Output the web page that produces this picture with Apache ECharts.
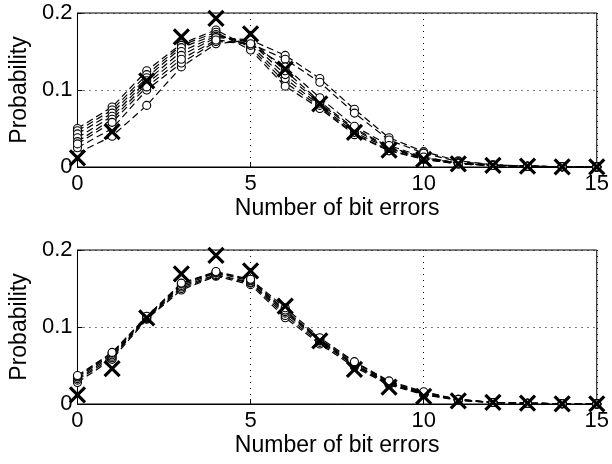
<!DOCTYPE html>
<html>
<head>
<meta charset="utf-8">
<script src="https://cdn.jsdelivr.net/npm/echarts@6/dist/echarts.min.js"></script>
<style>html,body{margin:0;padding:0;background:#fff;}#c{width:612px;height:464px;}</style>
</head>
<body>
<div id="c"></div>
<script>
// Number of bit errors
const bitErrors = [0,1,2,3,4,5,6,7,8,9,10,11,12,13,14,15];
const yTicks = [0, 0.1, 0.2];
// Reference distribution (X markers), same in both panels
const refProb = [0.012,0.046,0.112,0.169,0.193,0.173,0.127,0.082,0.045,0.022,0.010,0.004,0.002,0.001,0.0003,0.0001];
// Top panel: measured distributions (circles, dashed)
const topA = [0.018,0.040,0.080,0.130,0.160,0.165,0.145,0.115,0.075,0.038,0.020,0.008,0.003,0.001,0.0003,0.0001];
const topB = [0.025,0.050,0.100,0.135,0.163,0.160,0.140,0.110,0.070,0.035,0.018,0.007,0.003,0.001,0.0003,0.0001];
const topC = [0.050,0.078,0.125,0.160,0.178,0.155,0.110,0.078,0.043,0.022,0.010,0.004,0.002,0.001,0.0003,0.0001];
const topD = [0.047,0.074,0.120,0.158,0.175,0.152,0.105,0.076,0.042,0.021,0.010,0.004,0.002,0.001,0.0003,0.0001];
const topE = [0.043,0.070,0.116,0.155,0.172,0.158,0.115,0.080,0.045,0.024,0.011,0.005,0.002,0.001,0.0003,0.0001];
const topF = [0.038,0.066,0.112,0.150,0.170,0.162,0.120,0.083,0.048,0.025,0.012,0.005,0.002,0.001,0.0003,0.0001];
const topG = [0.033,0.062,0.108,0.145,0.168,0.165,0.125,0.085,0.050,0.026,0.012,0.005,0.002,0.001,0.0003,0.0001];
const topH = [0.030,0.058,0.104,0.140,0.165,0.160,0.130,0.090,0.053,0.028,0.013,0.005,0.002,0.001,0.0003,0.0001];
// Bottom panel: measured distributions
const botA = [0.028,0.058,0.110,0.148,0.166,0.155,0.112,0.078,0.048,0.025,0.012,0.005,0.002,0.001,0.0003,0.0001];
const botB = [0.031,0.060,0.111,0.150,0.167,0.157,0.115,0.080,0.050,0.026,0.013,0.005,0.002,0.001,0.0003,0.0001];
const botC = [0.033,0.062,0.112,0.152,0.168,0.158,0.118,0.082,0.051,0.027,0.013,0.005,0.002,0.001,0.0003,0.0001];
const botD = [0.035,0.064,0.113,0.154,0.170,0.160,0.120,0.083,0.052,0.028,0.014,0.006,0.002,0.001,0.0003,0.0001];
const botE = [0.036,0.066,0.113,0.156,0.171,0.161,0.122,0.084,0.054,0.029,0.015,0.006,0.002,0.001,0.0003,0.0001];
const botF = [0.037,0.067,0.114,0.157,0.172,0.162,0.125,0.086,0.055,0.030,0.016,0.006,0.002,0.001,0.0003,0.0001];

const topSeries = [topA, topB, topC, topD, topE, topF, topG, topH];
const botSeries = [botA, botB, botC, botD, botE, botF];

const FONT = 'Liberation Sans, Arial, sans-serif';
function pairs(arr){ return arr.map((v,i)=>[bitErrors[i], v]); }

function xAx(gi){
  return {
    type:'value', gridIndex:gi, min:0, max:15, interval:5,
    name:'Number of bit errors', nameLocation:'middle', nameGap:30,
    nameTextStyle:{color:'#000', fontSize:23, fontFamily:FONT},
    axisLine:{show:true, onZero:false, lineStyle:{color:'#000', width:1}},
    axisTick:{show:true, inside:true, length:5, lineStyle:{color:'#000'}},
    axisLabel:{color:'#000', fontSize:22, fontFamily:FONT, margin:6},
    splitLine:{show:true, lineStyle:{color:'#000', type:[1,5], width:1}}
  };
}
function yAx(gi){
  return {
    type:'value', gridIndex:gi, min:0, max:0.2, interval:0.1,
    name:'Probability', nameLocation:'middle', nameGap:45,
    nameTextStyle:{color:'#000', fontSize:23, fontFamily:FONT},
    axisLine:{show:true, lineStyle:{color:'#000', width:1}},
    axisTick:{show:true, inside:true, length:5, lineStyle:{color:'#000'}},
    axisLabel:{color:'#000', fontSize:22, fontFamily:FONT, margin:5,
      formatter:v=> (v===0 ? '0' : v.toFixed(1))},
    splitLine:{show:true, lineStyle:{color:'#000', type:[1,5], width:1}}
  };
}
const series = [];
function addPanel(list, gi){
  list.forEach(arr=>{
    series.push({
      type:'line', xAxisIndex:gi, yAxisIndex:gi, data:pairs(arr),
      symbol:'circle', symbolSize:8, showSymbol:true, clip:false,
      lineStyle:{color:'#000', width:1.2, type:[7,4]},
      itemStyle:{color:'#fff', borderColor:'#000', borderWidth:1.1},
      animation:false, z:2
    });
  });
  series.push({
    type:'scatter', xAxisIndex:gi, yAxisIndex:gi, data:pairs(refProb),
    symbol:'path://M0,0 L10,10 M10,0 L0,10', symbolSize:15, clip:false,
    itemStyle:{color:'none', borderColor:'#000', borderWidth:3.2, opacity:1},
    animation:false, z:5
  });
}
addPanel(topSeries, 0);
addPanel(botSeries, 1);

const chart = echarts.init(document.getElementById('c'), null, {renderer:'canvas'});
chart.setOption({
  animation:false,
  backgroundColor:'#fff',
  grid:[
    {left:73, right:14, top:13, height:154, show:true, borderColor:'#000', borderWidth:1, backgroundColor:'transparent'},
    {left:73, right:14, top:250, height:154, show:true, borderColor:'#000', borderWidth:1, backgroundColor:'transparent'}
  ],
  xAxis:[xAx(0), xAx(1)],
  yAxis:[yAx(0), yAx(1)],
  series: series
});
</script>
</body>
</html>
